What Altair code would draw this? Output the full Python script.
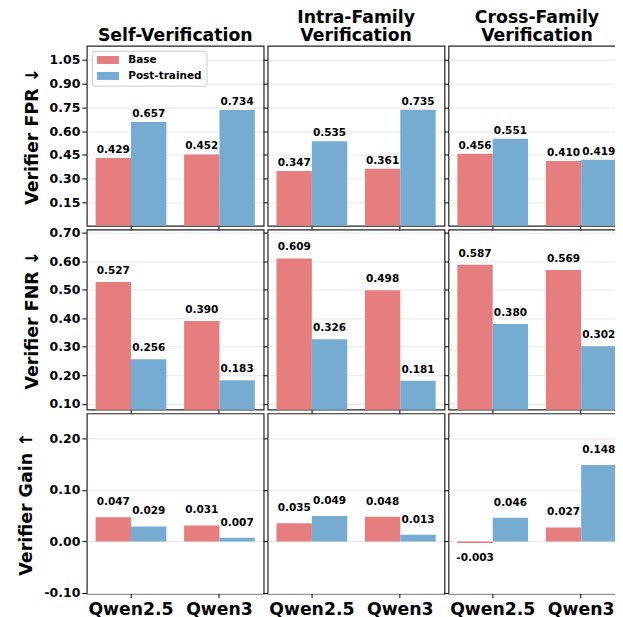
import altair as alt
import pandas as pd

models = ["Qwen2.5", "Qwen3"]
variants = ["Base", "Post-trained"]
colors = ["#E67D7E", "#77ACD2"]
settings = [["Self-Verification"], ["Intra-Family", "Verification"], ["Cross-Family", "Verification"]]
metrics = ["Verifier FPR ↓", "Verifier FNR ↓", "Verifier Gain ↑"]

# order within each list: Qwen2.5 Base, Qwen2.5 Post-trained, Qwen3 Base, Qwen3 Post-trained
fpr_self = [0.429, 0.657, 0.452, 0.734]
fpr_intra = [0.347, 0.535, 0.361, 0.735]
fpr_cross = [0.456, 0.551, 0.410, 0.419]
fnr_self = [0.527, 0.256, 0.390, 0.183]
fnr_intra = [0.609, 0.326, 0.498, 0.181]
fnr_cross = [0.587, 0.380, 0.569, 0.302]
gain_self = [0.047, 0.029, 0.031, 0.007]
gain_intra = [0.035, 0.049, 0.048, 0.013]
gain_cross = [-0.003, 0.046, 0.027, 0.148]

values = [
    [fpr_self, fpr_intra, fpr_cross],
    [fnr_self, fnr_intra, fnr_cross],
    [gain_self, gain_intra, gain_cross],
]

y_domains = [[0.0, 1.14], [0.08, 0.71], [-0.101, 0.248]]
y_ticks = [
    [0.15, 0.30, 0.45, 0.60, 0.75, 0.90, 1.05],
    [0.10, 0.20, 0.30, 0.40, 0.50, 0.60, 0.70],
    [-0.10, 0.00, 0.10, 0.20],
]
label_dy = [5, 8, 12]

FONT = "DejaVu Sans"
W, H = 177.3, 180.5


def panel(r, c):
    vals = values[r][c]
    df = pd.DataFrame({
        "model": [m for m in models for _ in variants],
        "variant": variants * 2,
        "value": vals,
    })
    df["label"] = df["value"].map(lambda v: f"{v:.3f}")

    xaxis = alt.Axis(
        title=None, labels=(r == 2), labelAngle=0, labelFontSize=17.3,
        labelFontWeight="bold", labelColor="black", labelFont=FONT, labelPadding=3,
        ticks=True, tickSize=4, tickColor="black", domain=False, grid=False,
    )
    yaxis_kwargs = dict(
        values=y_ticks[r], labels=(c == 0),
        labelExpr="replace(format(datum.value, '.2f'), '\u2212', '-')",
        labelFontSize=12.5, labelFontWeight="bold", labelColor="black", labelFont=FONT,
        labelPadding=2, tickSize=5, tickColor="black", domain=False,
        grid=True, gridColor="#e8e8e8", gridWidth=1,
        titleFontSize=17.5, titleFontWeight="bold", titleColor="black", titleFont=FONT,
        titlePadding=8,
    )
    if c == 0:
        yaxis = alt.Axis(title=metrics[r], **yaxis_kwargs)
    else:
        yaxis = alt.Axis(title=None, **yaxis_kwargs)

    y_scale = alt.Scale(domain=y_domains[r], nice=False, zero=False)

    base = alt.Chart(df).encode(
        x=alt.X("model:N", sort=models, axis=xaxis,
                scale=alt.Scale(paddingInner=0.2, paddingOuter=0.1)),
        xOffset=alt.XOffset("variant:N", sort=variants,
                            scale=alt.Scale(paddingInner=0, paddingOuter=0)),
        y=alt.Y("value:Q", scale=y_scale, axis=yaxis, stack=None),
    )

    if r == 0 and c == 0:
        legend = alt.Legend(
            title=None, orient="top-left", offset=5, padding=4, rowPadding=5,
            symbolType="M-1,-1H4.5V1H-1Z", symbolSize=64, symbolStrokeWidth=0,
            symbolOpacity=1, labelOffset=22, labelFontSize=10.5, labelFontWeight="bold",
            labelFont=FONT, labelColor="black", strokeColor="#cccccc", cornerRadius=3,
            fillColor="white",
        )
    else:
        legend = None

    bars = base.mark_bar(clip=True).encode(
        y2=alt.datum(0),
        color=alt.Color("variant:N", sort=variants,
                        scale=alt.Scale(domain=variants, range=colors), legend=legend),
    )
    pos = base.transform_filter("datum.value >= 0").mark_text(
        baseline="alphabetic", dy=-label_dy[r], font=FONT, fontSize=10.5,
        fontWeight="bold", color="black",
    ).encode(text="label:N")
    neg = base.transform_filter("datum.value < 0").mark_text(
        baseline="top", dy=10, font=FONT, fontSize=10.5,
        fontWeight="bold", color="black",
    ).encode(text="label:N")

    layer = alt.layer(bars, pos, neg).properties(width=W, height=H)
    if r == 0:
        layer = layer.properties(title=alt.TitleParams(
            text=settings[c], fontSize=17.3, fontWeight="bold", font=FONT,
            color="black", lineHeight=19, offset=1, anchor="middle"))
    return layer


panels = [panel(r, c) for r in range(3) for c in range(3)]

chart = alt.concat(
    *panels, columns=3, spacing={"row": 3.3, "column": 3.3}, bounds="flush"
).resolve_scale(color="independent").resolve_legend(color="independent").properties(
    padding={"left": 9, "top": -0.9, "right": -11.5, "bottom": 0}
).configure(font=FONT).configure_view(stroke="#222222", strokeWidth=1.2)

chart.save("out.html", embed_options={"renderer": "svg", "actions": False})
